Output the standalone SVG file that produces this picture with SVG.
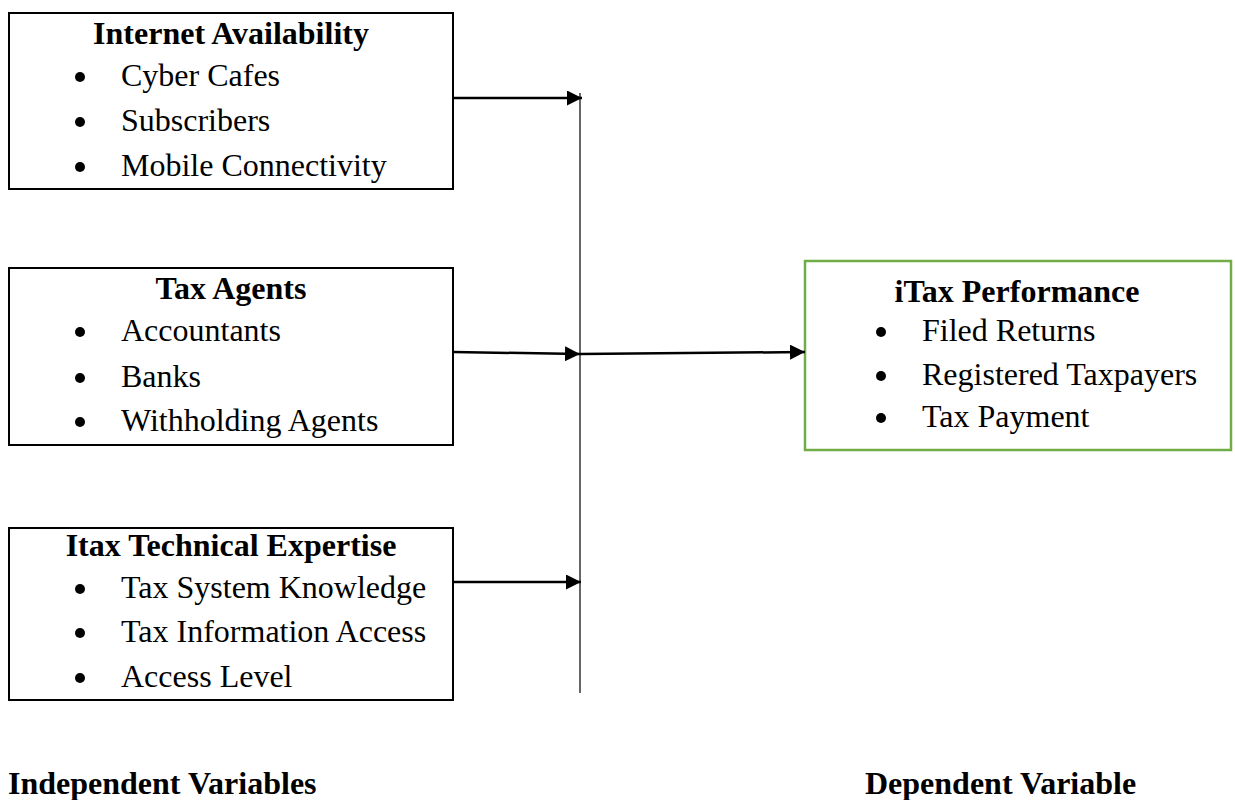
<svg xmlns="http://www.w3.org/2000/svg" width="1235" height="800" viewBox="0 0 1235 800">
<defs>
<marker id="ah" markerWidth="15" markerHeight="15" refX="15" refY="7.5" orient="auto" markerUnits="userSpaceOnUse" viewBox="0 0 15 15">
<path d="M0,0 L15,7.5 L0,15 Z" fill="#000"/>
</marker>
<style>
.box{fill:#fff;stroke:#000;stroke-width:2}
.gbox{fill:#fff;stroke:#70ad47;stroke-width:2.5}
.t{font-family:"Liberation Serif","Times New Roman",serif;font-size:32px;fill:#000}
.b{font-weight:bold;text-anchor:middle}
.lb{font-family:"Liberation Serif","Times New Roman",serif;font-size:32px;font-weight:bold;fill:#000}
.bul{fill:#000}
.ln{stroke:#000;stroke-width:2.5;fill:none}
.vl{stroke:#000;stroke-width:1.2;fill:none}
</style>
</defs>
<rect width="1235" height="800" fill="#fff"/>
<g id="internet">
<rect class="box" x="9" y="13" width="444" height="176"/>
<text class="t b" x="231" y="44">Internet Availability</text>
<circle class="bul" cx="80" cy="77" r="5"/><text class="t" x="121" y="86">Cyber Cafes</text>
<circle class="bul" cx="80" cy="122" r="5"/><text class="t" x="121" y="131">Subscribers</text>
<circle class="bul" cx="80" cy="167" r="5"/><text class="t" x="121" y="176">Mobile Connectivity</text>
</g>
<g id="agents">
<rect class="box" x="9" y="268" width="444" height="177"/>
<text class="t b" x="231" y="299">Tax Agents</text>
<circle class="bul" cx="80" cy="332" r="5"/><text class="t" x="121" y="341">Accountants</text>
<circle class="bul" cx="80" cy="378" r="5"/><text class="t" x="121" y="387">Banks</text>
<circle class="bul" cx="80" cy="422" r="5"/><text class="t" x="121" y="431">Withholding Agents</text>
</g>
<g id="expertise">
<rect class="box" x="9" y="528" width="444" height="172"/>
<text class="t b" x="231" y="556">Itax Technical Expertise</text>
<circle class="bul" cx="80" cy="589" r="5"/><text class="t" x="121" y="598">Tax System Knowledge</text>
<circle class="bul" cx="80" cy="633" r="5"/><text class="t" x="121" y="642">Tax Information Access</text>
<circle class="bul" cx="80" cy="678" r="5"/><text class="t" x="121" y="687">Access Level</text>
</g>
<g id="performance">
<rect class="gbox" x="805" y="261" width="426" height="189"/>
<text class="t b" x="1017" y="302">iTax Performance</text>
<circle class="bul" cx="881" cy="332" r="5"/><text class="t" x="922" y="341">Filed Returns</text>
<circle class="bul" cx="881" cy="376" r="5"/><text class="t" x="922" y="385">Registered Taxpayers</text>
<circle class="bul" cx="881" cy="418" r="5"/><text class="t" x="922" y="427">Tax Payment</text>
</g>
<g id="connectors">
<line class="vl" x1="580" y1="93" x2="580" y2="693"/>
<line class="ln" x1="453" y1="98" x2="582" y2="98" marker-end="url(#ah)"/>
<line class="ln" x1="453" y1="352" x2="580" y2="354" marker-end="url(#ah)"/>
<line class="ln" x1="580" y1="354" x2="805" y2="352" marker-end="url(#ah)"/>
<line class="ln" x1="453" y1="582" x2="581" y2="582" marker-end="url(#ah)"/>
</g>
<g id="labels">
<text class="lb" x="8" y="794">Independent Variables</text>
<text class="lb" x="865" y="794">Dependent Variable</text>
</g>
</svg>
